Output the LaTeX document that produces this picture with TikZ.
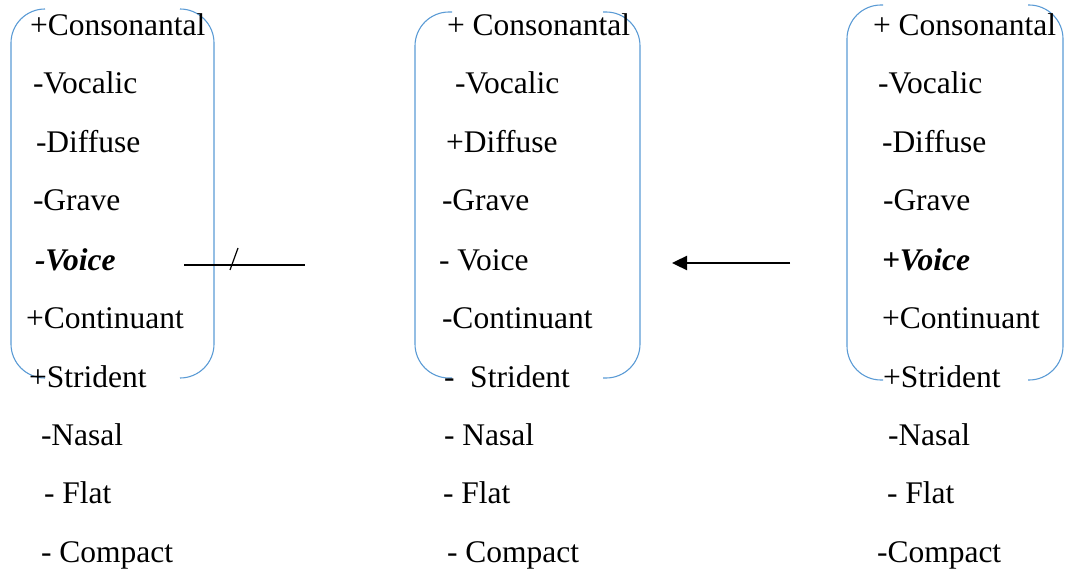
\documentclass[tikz,border=0pt]{standalone}
\usepackage{fontspec}
\setmainfont{Liberation Serif}
\usetikzlibrary{arrows.meta}
\definecolor{brk}{RGB}{91,155,213}
\tikzset{
  feat/.style={anchor=base west, inner sep=0pt, outer sep=0pt, font=\fontsize{31.5}{36}\selectfont},
  brack/.style={draw=brk, line width=1.1pt, rounded corners=34pt},
  conn/.style={draw=black, line width=2pt},
}
\begin{document}
\begin{tikzpicture}[x=1pt,y=-1pt]
\useasboundingbox (0,0) rectangle (1065,572);
% brackets
\draw[brack] (45,9) -- (11,9) -- (11,378) -- (45,378);
\draw[brack] (180,9) -- (214,9) -- (214,378) -- (180,378);
\draw[brack] (452,12) -- (415,12) -- (415,378) -- (452,378);
\draw[brack] (603,12) -- (640,12) -- (640,378) -- (603,378);
\draw[brack] (883,5) -- (847,5) -- (847,380) -- (883,380);
\draw[brack] (1028,5) -- (1063,5) -- (1063,380) -- (1028,380);
% left column
\node[feat] (l1) at (30,36) {+Consonantal};
\node[feat] (l2) at (33,94) {-Vocalic};
\node[feat] (l3) at (36,153) {-Diffuse};
\node[feat] (l4) at (33,211) {-Grave};
\node[feat] (l5) at (35,270) {\bfseries\itshape -Voice};
\node[feat] (l6) at (26,328) {+Continuant};
\node[feat] (l7) at (29,387) {+Strident};
\node[feat] (l8) at (41,445) {-Nasal};
\node[feat] (l9) at (44,503) {- Flat};
\node[feat] (l10) at (41,562) {- Compact};
% middle column
\node[feat] (m1) at (447,36) {+ Consonantal};
\node[feat] (m2) at (455,94) {-Vocalic};
\node[feat] (m3) at (446,153) {+Diffuse};
\node[feat] (m4) at (442,211) {-Grave};
\node[feat] (m5) at (439,270) {- Voice};
\node[feat] (m6) at (442,328) {-Continuant};
\node[feat] (m7) at (444,387) {-\ \ Strident};
\node[feat] (m8) at (444,445) {- Nasal};
\node[feat] (m9) at (443,503) {- Flat};
\node[feat] (m10) at (447,562) {- Compact};
% right column
\node[feat] (r1) at (873,36) {+ Consonantal};
\node[feat] (r2) at (878,94) {-Vocalic};
\node[feat] (r3) at (882,153) {-Diffuse};
\node[feat] (r4) at (883,211) {-Grave};
\node[feat] (r5) at (882,270) {\bfseries\itshape +Voice};
\node[feat] (r6) at (882,328) {+Continuant};
\node[feat] (r7) at (883,387) {+Strident};
\node[feat] (r8) at (888,445) {-Nasal};
\node[feat] (r9) at (887,503) {- Flat};
\node[feat] (r10) at (877,562) {-Compact};
% connectors
\coordinate (s1) at (184,265);
\coordinate (s2) at (305,265);
\coordinate (t1) at (230,270);
\coordinate (t2) at (238,248);
\draw[conn] (s1) -- (s2);
\draw[draw=black, line width=1.2pt] (t1) -- (t2);
\coordinate (a1) at (790,263);
\coordinate (a2) at (672,263);
\draw[conn, line width=2.4pt, -{Triangle[length=15pt,width=14pt]}] (a1) -- (a2);
\end{tikzpicture}
\end{document}
